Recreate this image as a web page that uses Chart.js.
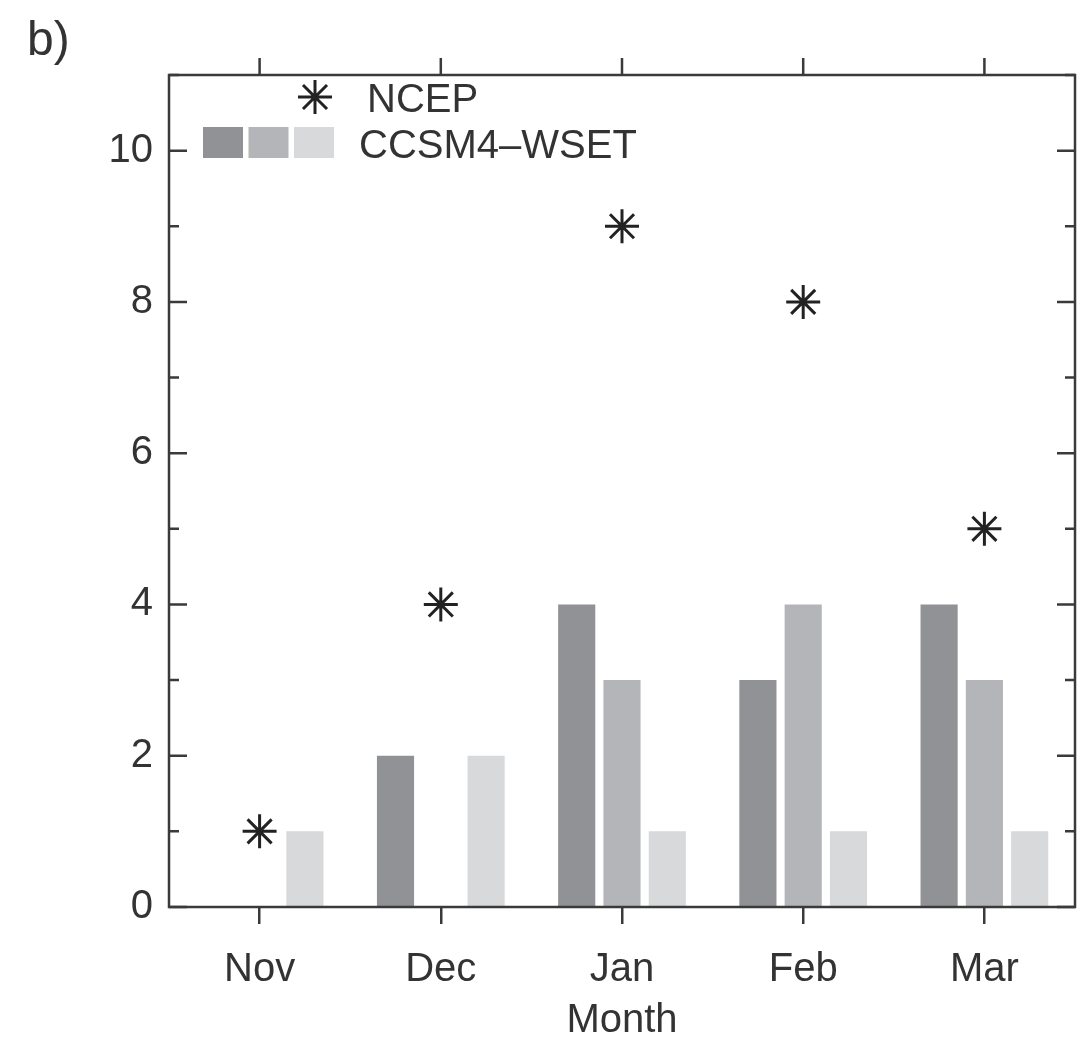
<!DOCTYPE html>
<html lang="en">
<head>
  <meta charset="UTF-8">
  <title>NCEP vs CCSM4-WSET</title>
  <script src="https://cdn.jsdelivr.net/npm/chart.js"></script>
  <style>
    html, body {
      margin: 0;
      overflow: hidden;
      background-color: #ffffff;
    }
    .chart-container {
      position: relative;
      width: 1080px;
      height: 1041px;
    }
  </style>
</head>
<body>
  <div class="chart-container">
    <canvas id="monthChart"></canvas>
  </div>

  <script>
    // Data
    const months = ['Nov', 'Dec', 'Jan', 'Feb', 'Mar'];
    const ncep = [1, 4, 9, 8, 5];
    const wsetA = [0, 2, 4, 3, 4];
    const wsetB = [0, 0, 3, 4, 3];
    const wsetC = [1, 2, 1, 1, 1];
    const yTicks = [0, 2, 4, 6, 8, 10];

    const axisColor = '#3a3a3a';
    const textColor = '#333333';
    const fontFamily = '"Liberation Sans", Arial, sans-serif';
    const barColors = ['#919296', '#b4b5b8', '#d8d9db'];

    // frame, inward y ticks, outward top x ticks, legend and panel letter
    const framePlugin = {
      id: 'frame',
      afterDraw(chart) {
        const ctx = chart.ctx;
        const { left, right, top, bottom } = chart.chartArea;
        const x = chart.scales.x;
        const y = chart.scales.y;
        ctx.save();
        ctx.strokeStyle = axisColor;
        ctx.lineWidth = 2.5;
        ctx.strokeRect(left, top, right - left, bottom - top);

        ctx.beginPath();
        y.ticks.forEach(t => {
          const py = y.getPixelForValue(t.value);
          const len = t.value % 2 === 0 ? 18 : 10;
          ctx.moveTo(left, py); ctx.lineTo(left + len, py);
          ctx.moveTo(right, py); ctx.lineTo(right - len, py);
        });
        months.forEach((m, i) => {
          const px = x.getPixelForValue(i);
          ctx.moveTo(px, top); ctx.lineTo(px, top - 17);
        });
        ctx.stroke();

        // legend
        ctx.strokeStyle = '#222222';
        ctx.fillStyle = '#222222';
        ctx.lineWidth = 3;
        Chart.helpers.drawPoint(ctx, { pointStyle: 'star', radius: 17, rotation: 0, borderWidth: 3 }, 315, 97);
        barColors.forEach((c, i) => {
          ctx.fillStyle = c;
          ctx.fillRect(203 + i * 45.5, 127, 40, 31);
        });
        ctx.fillStyle = textColor;
        ctx.font = '40px ' + fontFamily;
        ctx.textBaseline = 'alphabetic';
        ctx.textAlign = 'left';
        ctx.fillText('NCEP', 367, 112);
        ctx.fillText('CCSM4–WSET', 359, 158);

        ctx.font = '48px ' + fontFamily;
        ctx.fillText('b)', 27, 55);
        ctx.restore();
      }
    };

    const ctx = document.getElementById('monthChart').getContext('2d');
    const monthChart = new Chart(ctx, {
      type: 'bar',
      data: {
        labels: months,
        datasets: [
          {
            type: 'line',
            label: 'NCEP',
            data: ncep,
            showLine: false,
            pointStyle: 'star',
            pointRadius: 17,
            pointBorderWidth: 3,
            pointBorderColor: '#222222',
            pointBackgroundColor: '#222222',
            order: 0
          },
          { label: 'CCSM4-WSET a', data: wsetA, backgroundColor: barColors[0], order: 1 },
          { label: 'CCSM4-WSET b', data: wsetB, backgroundColor: barColors[1], order: 1 },
          { label: 'CCSM4-WSET c', data: wsetC, backgroundColor: barColors[2], order: 1 }
        ]
      },
      options: {
        responsive: true,
        maintainAspectRatio: false,
        animation: false,
        categoryPercentage: 0.75,
        barPercentage: 0.82,
        layout: {
          autoPadding: false,
          padding: { top: 75, right: 5, left: 0, bottom: 0 }
        },
        plugins: {
          legend: { display: false },
          tooltip: { enabled: false }
        },
        scales: {
          x: {
            offset: true,
            afterFit: scale => { scale.height = 134; },
            grid: {
              display: true,
              offset: false,
              drawOnChartArea: false,
              drawTicks: true,
              tickLength: 17,
              color: axisColor,
              lineWidth: 2.5
            },
            border: { display: false },
            ticks: {
              padding: 22,
              color: textColor,
              font: { family: fontFamily, size: 40 },
              maxRotation: 0
            },
            title: {
              display: true,
              text: 'Month',
              color: textColor,
              font: { family: fontFamily, size: 40, lineHeight: 1 },
              padding: { top: 0, bottom: 0 }
            }
          },
          y: {
            min: 0,
            max: 11,
            afterFit: scale => { scale.width = 169; },
            grid: { display: false, drawTicks: false },
            border: { display: false },
            ticks: {
              stepSize: 1,
              padding: 16,
              color: textColor,
              font: { family: fontFamily, size: 40 },
              callback: v => yTicks.includes(v) ? String(v) : ''
            }
          }
        }
      },
      plugins: [framePlugin]
    });
  </script>
</body>
</html>
